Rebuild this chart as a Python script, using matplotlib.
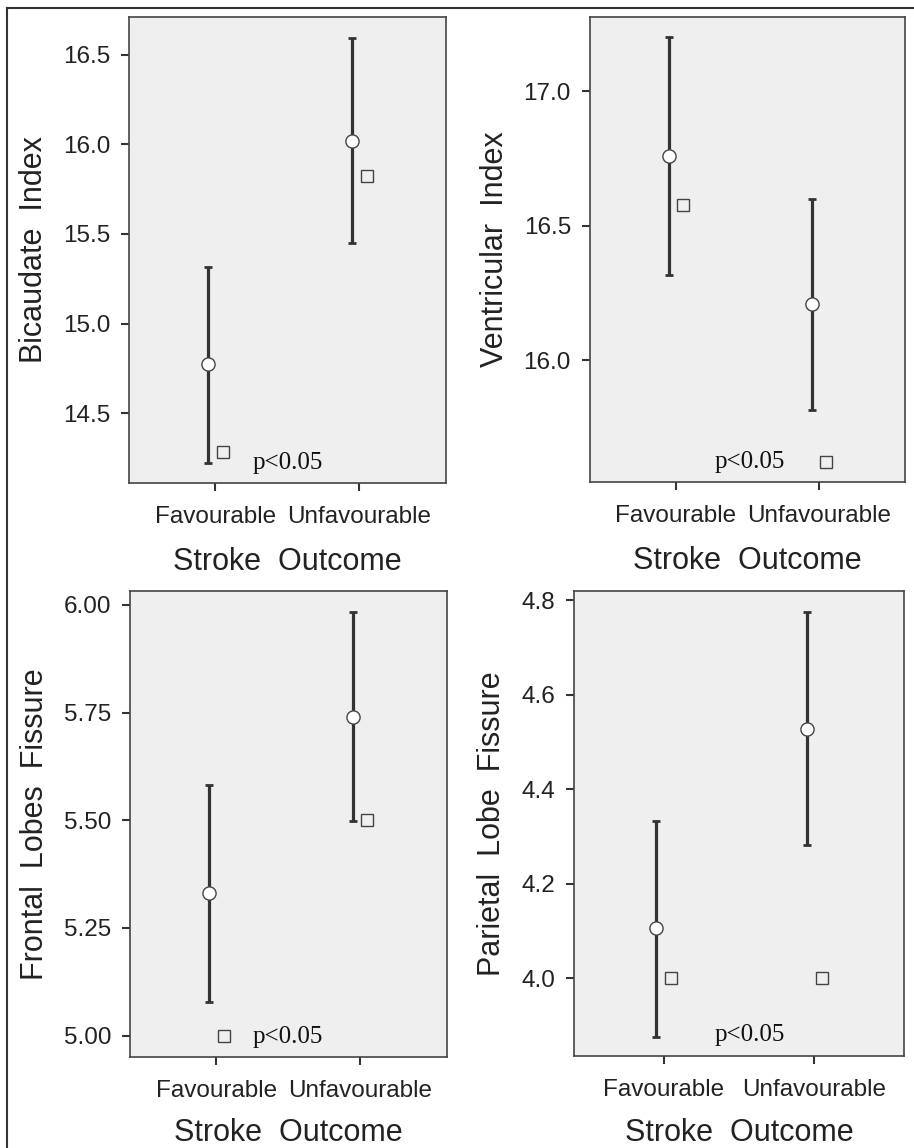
import numpy as np
import matplotlib
matplotlib.use('Agg')
import matplotlib.pyplot as plt
from matplotlib.lines import Line2D
from matplotlib.ticker import FormatStrFormatter

groups = ['Favourable', 'Unfavourable']

# mean, 95% CI and median (square) per stroke outcome
bicaudate_mean = [14.773, 16.020]
bicaudate_low = [14.224, 15.451]
bicaudate_high = [15.318, 16.592]
bicaudate_median = [14.282, 15.822]

ventricular_mean = [16.758, 16.208]
ventricular_low = [16.317, 15.816]
ventricular_high = [17.201, 16.599]
ventricular_median = [16.578, 15.623]

frontal_mean = [5.330, 5.741]
frontal_low = [5.078, 5.498]
frontal_high = [5.583, 5.984]
frontal_median = [5.00, 5.50]

parietal_mean = [4.107, 4.528]
parietal_low = [3.877, 4.282]
parietal_high = [4.334, 4.775]
parietal_median = [4.00, 4.00]

ylabels = ['Bicaudate  Index', 'Ventricular  Index',
           'Frontal  Lobes  Fissure', 'Parietal  Lobe  Fissure']


def main():
    fig = plt.figure(figsize=(9.14, 11.48), dpi=100)
    fig.patch.set_facecolor('white')

    panels = [
        (bicaudate_mean, bicaudate_low, bicaudate_high, bicaudate_median,
         [0.1411, 0.5796, 0.3468, 0.4052], (14.112, 16.708),
         [14.5, 15.0, 15.5, 16.0, 16.5], '%.1f', (0.39, 0.043)),
        (ventricular_mean, ventricular_low, ventricular_high, ventricular_median,
         [0.6452, 0.5802, 0.3453, 0.4048], (15.547, 17.276),
         [16.0, 16.5, 17.0], '%.1f', (0.397, 0.043)),
        (frontal_mean, frontal_low, frontal_high, frontal_median,
         [0.1422, 0.0796, 0.3465, 0.4054], (4.951, 6.032),
         [5.0, 5.25, 5.5, 5.75, 6.0], '%.2f', (0.388, 0.043)),
        (parietal_mean, parietal_low, parietal_high, parietal_median,
         [0.6277, 0.0802, 0.3617, 0.4048], (3.836, 4.819),
         [4.0, 4.2, 4.4, 4.6, 4.8], '%.1f', (0.427, 0.044)),
    ]

    pos = np.arange(len(groups))
    for i, (m, lo, hi, med, rect, ylim, yt, fmt, ptxt) in enumerate(panels):
        ax = fig.add_axes(rect)
        ax.set_facecolor('#efefef')
        m = np.array(m)
        err = [m - np.array(lo), np.array(hi) - m]
        ax.errorbar(pos - 0.05, m, yerr=err, fmt='none', ecolor='#333333',
                    elinewidth=2.3, capsize=3, capthick=2, zorder=2)
        ax.plot(pos - 0.05, m, 'o', ms=9.5, mfc='white', mec='#444444',
                mew=1.0, zorder=3)
        ax.plot(pos + 0.05, med, 's', ms=8.5, mfc='none', mec='#444444',
                mew=1.0, zorder=3)
        ax.text(ptxt[0], ptxt[1], 'p<0.05', transform=ax.transAxes,
                ha='left', va='center', fontsize=18,
                family='Liberation Serif', color='#111111')

        ax.set_xlim(-0.6, 1.6)
        ax.set_ylim(*ylim)
        ax.set_xticks(pos)
        ax.set_xticklabels(groups)
        ax.set_yticks(yt)
        ax.yaxis.set_major_formatter(FormatStrFormatter(fmt))
        for s in ax.spines.values():
            s.set_color('#444444')
            s.set_linewidth(1.2)
        ax.tick_params(axis='both', length=5.5, width=1.5, color='#333333',
                       labelsize=17.5, labelcolor='#222222')
        ax.tick_params(axis='x', pad=11)
        ax.tick_params(axis='y', pad=8)
        for lab in ax.get_xticklabels() + ax.get_yticklabels():
            lab.set_family('Liberation Sans')
        ax.set_xlabel('Stroke  Outcome', fontsize=22, family='Liberation Sans',
                      color='#222222', labelpad=14 if i < 2 else 12)
        ax.set_ylabel(ylabels[i], fontsize=22, family='Liberation Sans',
                      color='#222222', labelpad=10)

    # outer frame (left and top edges visible)
    fig.add_artist(Line2D([7.5 / 914, 7.5 / 914], [0, 1 - 7.5 / 1148],
                          transform=fig.transFigure, color='#333333', lw=1.5))
    fig.add_artist(Line2D([7.5 / 914, 1], [1 - 7.5 / 1148, 1 - 7.5 / 1148],
                          transform=fig.transFigure, color='#333333', lw=1.5))

    plt.savefig('out.png', dpi=100)


if __name__ == '__main__':
    main()
